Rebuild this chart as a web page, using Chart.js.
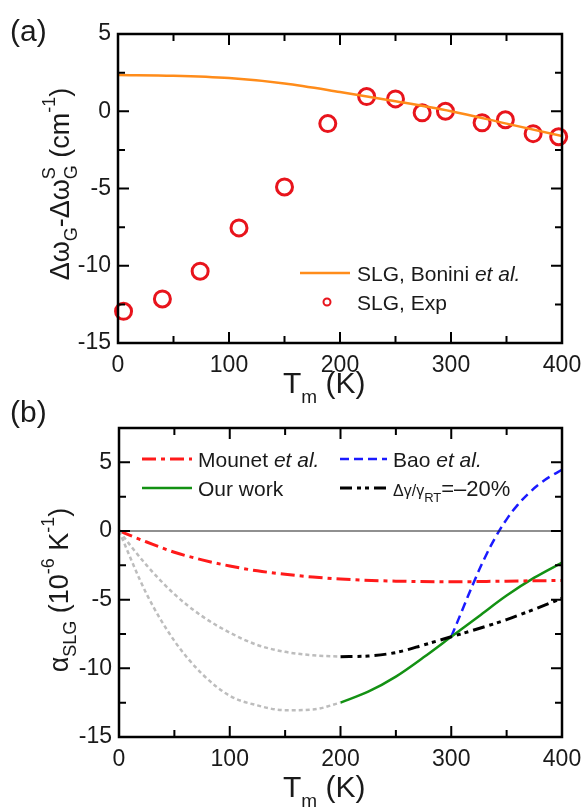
<!DOCTYPE html>
<html>
<head>
<meta charset="utf-8">
<script src="https://cdn.jsdelivr.net/npm/chart.js@4.4.1/dist/chart.umd.min.js"></script>
<style>
  body { margin: 0; background: #fff; }
  #wrap { position: relative; width: 587px; height: 812px; overflow: hidden; }
  canvas { position: absolute; left: 0; }
  #chartA { top: 0; }
  #chartB { top: 390px; }
</style>
</head>
<body>
<div id="wrap">
  <canvas id="chartA" width="587" height="410"></canvas>
  <canvas id="chartB" width="587" height="422"></canvas>
</div>
<script>
// ---- panel (a): G-mode shift vs temperature ----
const expT = [5, 40, 74, 109, 150, 189, 224, 250, 274, 295, 328, 349, 374, 397];
const expShift = [-12.95, -12.15, -10.35, -7.55, -4.9, -0.8, 0.95, 0.8, -0.1, 0.0, -0.75, -0.55, -1.45, -1.65];
const boniniT = [0, 50, 100, 150, 200, 250, 300, 350, 400];
const boniniShift = [2.35, 2.3, 2.15, 1.8, 1.25, 0.65, 0.0, -0.8, -1.6];

// ---- panel (b): thermal expansion coefficient ----
const mounetT = [0, 25, 50, 75, 100, 125, 150, 175, 200, 250, 300, 350, 400];
const mounetA = [0, -0.8, -1.55, -2.1, -2.55, -2.9, -3.15, -3.35, -3.5, -3.65, -3.7, -3.65, -3.6];
const baoT = [300, 310, 320, 330, 340, 350, 360, 370, 380, 390, 400];
const baoA = [-7.7, -5.75, -3.8, -2.0, -0.45, 0.85, 1.9, 2.75, 3.45, 4.0, 4.45];
const ourT = [200, 225, 250, 275, 300, 325, 350, 375, 400];
const ourA = [-12.5, -11.7, -10.6, -9.2, -7.7, -6.2, -4.7, -3.4, -2.3];
const gammaT = [200, 225, 250, 275, 300, 325, 350, 375, 400];
const gammaA = [-9.15, -9.1, -8.85, -8.3, -7.7, -7.1, -6.45, -5.7, -4.9];
const lowT = [0, 25, 50, 75, 100, 125, 150, 175, 200];
const upperGray = [0, -2.5, -4.6, -6.2, -7.4, -8.3, -8.8, -9.05, -9.15];
const lowerGray = [0, -4.6, -8.0, -10.4, -12.0, -12.7, -13.05, -13.0, -12.5];

const FONT = '"Liberation Sans", Arial, sans-serif';
Chart.defaults.font.family = FONT;
Chart.defaults.color = '#1a1a1a';

function pts(xs, ys) { return xs.map((x, i) => ({ x: x, y: ys[i] })); }

// draws a run of text pieces (with sub/superscripts) left to right
function drawRich(ctx, x, y, parts) {
  ctx.textBaseline = 'alphabetic';
  ctx.textAlign = 'left';
  let cx = x;
  parts.forEach(p => {
    ctx.font = (p.italic ? 'italic ' : '') + p.size + 'px ' + FONT;
    if (p.stack) {
      // subscript and superscript at the same position
      ctx.fillText(p.t, cx, y + p.dy);
      ctx.fillText(p.stack.t, cx, y + p.stack.dy);
      cx += Math.max(ctx.measureText(p.t).width, ctx.measureText(p.stack.t).width);
    } else {
      ctx.fillText(p.t, cx, y + (p.dy || 0));
      cx += ctx.measureText(p.t).width;
    }
  });
  return cx - x;
}
function richWidth(ctx, parts) {
  let w = 0;
  parts.forEach(p => {
    ctx.font = (p.italic ? 'italic ' : '') + p.size + 'px ' + FONT;
    w += p.stack ? Math.max(ctx.measureText(p.t).width, ctx.measureText(p.stack.t).width) : ctx.measureText(p.t).width;
  });
  return w;
}

function frameAndTicks(chart, xMajor, xMinor, yMajor, yMinor) {
  const ctx = chart.ctx, a = chart.chartArea, x = chart.scales.x, y = chart.scales.y;
  ctx.save();
  ctx.strokeStyle = '#000';
  ctx.lineWidth = 2;
  ctx.beginPath();
  for (let v = x.min; v <= x.max + 0.01; v += xMinor) {
    const px = x.getPixelForValue(v);
    const len = Math.abs(v % xMajor) < 0.01 ? 11 : 7;
    ctx.moveTo(px, a.bottom); ctx.lineTo(px, a.bottom - len);
    ctx.moveTo(px, a.top); ctx.lineTo(px, a.top + len);
  }
  for (let v = y.min; v <= y.max + 0.01; v += yMinor) {
    const py = y.getPixelForValue(v);
    const len = Math.abs(v % yMajor) < 0.01 ? 11 : 7;
    ctx.moveTo(a.left, py); ctx.lineTo(a.left + len, py);
    ctx.moveTo(a.right, py); ctx.lineTo(a.right - len, py);
  }
  ctx.stroke();
  ctx.lineWidth = 2.5;
  ctx.strokeRect(a.left, a.top, a.right - a.left, a.bottom - a.top);
  ctx.restore();
}

function xTitle(ctx, x, y) {
  ctx.fillStyle = '#1a1a1a';
  drawRich(ctx, x, y, [
    { t: 'T', size: 30 }, { t: 'm', size: 19, dy: 10 }, { t: ' (K)', size: 30 }
  ]);
}

function yTitle(ctx, cx, cy, parts) {
  ctx.save();
  ctx.translate(cx, cy);
  ctx.rotate(-Math.PI / 2);
  ctx.fillStyle = '#1a1a1a';
  const w = richWidth(ctx, parts);
  drawRich(ctx, -w / 2, 0, parts);
  ctx.restore();
}

function fixAxes(yWidth, xHeight) {
  return {
    x: s => { s.height = xHeight; s.paddingLeft = 0; s.paddingRight = 0; },
    y: s => { s.width = yWidth; s.paddingTop = 0; s.paddingBottom = 0; }
  };
}

// ---------------- chart (a) ----------------
const fitA = fixAxes(118, 67);
const panelA = {
  id: 'panelA',
  afterDraw(chart) {
    const ctx = chart.ctx;
    frameAndTicks(chart, 100, 50, 5, 2.5);
    ctx.save();
    ctx.fillStyle = '#1a1a1a';
    ctx.font = '30px ' + FONT;
    ctx.textBaseline = 'alphabetic';
    ctx.fillText('(a)', 10, 41);
    xTitle(ctx, 283, 393);
    yTitle(ctx, 69, 184, [
      { t: '\u0394\u03c9', size: 27 }, { t: 'G', size: 18, dy: 8 },
      { t: '-\u0394\u03c9', size: 27 }, { t: 'G', size: 18, dy: 8, stack: { t: 'S', dy: -14 } },
      { t: ' (cm', size: 27 }, { t: '-1', size: 18, dy: -14 }, { t: ')', size: 27 }
    ]);
    // legend
    ctx.strokeStyle = '#ff8c1a';
    ctx.lineWidth = 2.5;
    ctx.beginPath(); ctx.moveTo(300, 273); ctx.lineTo(350, 273); ctx.stroke();
    ctx.strokeStyle = '#e8141c';
    ctx.lineWidth = 2;
    ctx.beginPath(); ctx.arc(327, 302, 3.5, 0, Math.PI * 2); ctx.stroke();
    ctx.fillStyle = '#1a1a1a';
    drawRich(ctx, 357, 281, [{ t: 'SLG, Bonini ', size: 21 }, { t: 'et al.', size: 21, italic: true }]);
    drawRich(ctx, 357, 310, [{ t: 'SLG, Exp', size: 21 }]);
    ctx.restore();
  }
};

new Chart(document.getElementById('chartA'), {
  type: 'scatter',
  data: {
    datasets: [
      {
        type: 'line', data: pts(boniniT, boniniShift), borderColor: '#ff8c1a', borderWidth: 2.5,
        pointRadius: 0, cubicInterpolationMode: 'monotone', fill: false
      },
      {
        data: pts(expT, expShift), pointStyle: 'circle', pointRadius: 8, borderWidth: 3,
        borderColor: '#e8141c', backgroundColor: 'rgba(0,0,0,0)', clip: false
      }
    ]
  },
  options: {
    responsive: false, animation: false, events: [],
    layout: { padding: { left: 0, right: 25, top: 34, bottom: 0 } },
    plugins: { legend: { display: false }, tooltip: { enabled: false } },
    scales: {
      x: {
        type: 'linear', min: 0, max: 400, afterFit: fitA.x,
        grid: { display: false, drawTicks: false }, border: { display: false },
        ticks: { stepSize: 100, padding: 9, font: { size: 23 }, color: '#1a1a1a', maxRotation: 0 }
      },
      y: {
        min: -15, max: 5, afterFit: fitA.y,
        grid: { display: false, drawTicks: false }, border: { display: false },
        ticks: { stepSize: 5, padding: 7, font: { size: 23 }, color: '#1a1a1a' }
      }
    }
  },
  plugins: [panelA]
});

// ---------------- chart (b) ----------------
const fitB = fixAxes(119, 75);
function legendLine(ctx, x1, x2, y, color, dash, width) {
  ctx.strokeStyle = color;
  ctx.lineWidth = width;
  ctx.setLineDash(dash);
  ctx.beginPath(); ctx.moveTo(x1, y); ctx.lineTo(x2, y); ctx.stroke();
  ctx.setLineDash([]);
}
const panelB = {
  id: 'panelB',
  afterDraw(chart) {
    const ctx = chart.ctx;
    frameAndTicks(chart, 100, 50, 5, 2.5);
    ctx.save();
    ctx.fillStyle = '#1a1a1a';
    ctx.font = '30px ' + FONT;
    ctx.textBaseline = 'alphabetic';
    ctx.fillText('(b)', 10, 32);
    xTitle(ctx, 283, 407);
    yTitle(ctx, 68, 200, [
      { t: '\u03b1', size: 27 }, { t: 'SLG', size: 18, dy: 8 },
      { t: ' (10', size: 27 }, { t: '-6', size: 18, dy: -14 },
      { t: ' K', size: 27 }, { t: '-1', size: 18, dy: -14 }, { t: ')', size: 27 }
    ]);
    // legend
    legendLine(ctx, 142, 192, 69, '#ff1a1a', [14, 5, 4, 5], 3);
    legendLine(ctx, 340, 387, 69, '#1a1aff', [9, 5], 2.5);
    legendLine(ctx, 142, 192, 98, '#139113', [], 2.5);
    legendLine(ctx, 340, 387, 98, '#000', [12, 5, 4, 4, 4, 5], 3);
    ctx.fillStyle = '#1a1a1a';
    drawRich(ctx, 198, 77, [{ t: 'Mounet ', size: 21 }, { t: 'et al.', size: 21, italic: true }]);
    drawRich(ctx, 393, 77, [{ t: 'Bao ', size: 21 }, { t: 'et al.', size: 21, italic: true }]);
    drawRich(ctx, 198, 106, [{ t: 'Our work', size: 21 }]);
    drawRich(ctx, 393, 106, [
      { t: '\u0394\u03b3/\u03b3', size: 16 }, { t: 'RT', size: 13, dy: 6 }, { t: '=\u201320%', size: 22 }
    ]);
    ctx.restore();
  }
};

const lineOpts = { pointRadius: 0, cubicInterpolationMode: 'monotone', fill: false, type: 'line' };
new Chart(document.getElementById('chartB'), {
  type: 'scatter',
  data: {
    datasets: [
      Object.assign({ data: pts([0, 400], [0, 0]), borderColor: '#222', borderWidth: 1.2 }, lineOpts),
      Object.assign({ data: pts(lowT, upperGray), borderColor: '#bdbdbd', borderWidth: 2.5, borderDash: [4, 3] }, lineOpts),
      Object.assign({ data: pts(lowT, lowerGray), borderColor: '#bdbdbd', borderWidth: 2.5, borderDash: [4, 3] }, lineOpts),
      Object.assign({ data: pts(mounetT, mounetA), borderColor: '#ff1a1a', borderWidth: 3, borderDash: [14, 5, 4, 5] }, lineOpts),
      Object.assign({ data: pts(gammaT, gammaA), borderColor: '#000', borderWidth: 3, borderDash: [12, 5, 4, 4, 4, 5] }, lineOpts),
      Object.assign({ data: pts(ourT, ourA), borderColor: '#139113', borderWidth: 2.5 }, lineOpts),
      Object.assign({ data: pts(baoT, baoA), borderColor: '#1a1aff', borderWidth: 2.5, borderDash: [9, 5] },
        lineOpts, { cubicInterpolationMode: 'default', tension: 0.4 })
    ]
  },
  options: {
    responsive: false, animation: false, events: [],
    layout: { padding: { left: 0, right: 25, top: 38, bottom: 0 } },
    plugins: { legend: { display: false }, tooltip: { enabled: false } },
    scales: {
      x: {
        type: 'linear', min: 0, max: 400, afterFit: fitB.x,
        grid: { display: false, drawTicks: false }, border: { display: false },
        ticks: { stepSize: 100, padding: 9, font: { size: 23 }, color: '#1a1a1a', maxRotation: 0 }
      },
      y: {
        min: -15, max: 7.5, afterFit: fitB.y,
        afterBuildTicks: s => { s.ticks = s.ticks.filter(t => Math.abs(t.value % 5) < 0.01); },
        grid: { display: false, drawTicks: false }, border: { display: false },
        ticks: { stepSize: 5, padding: 7, font: { size: 23 }, color: '#1a1a1a' }
      }
    }
  },
  plugins: [panelB]
});
</script>
</body>
</html>
